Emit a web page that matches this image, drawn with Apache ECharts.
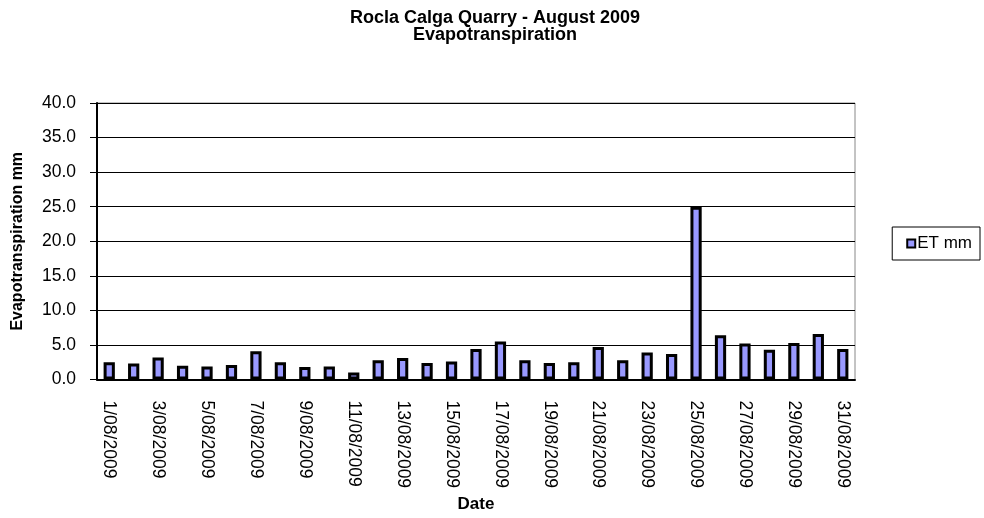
<!DOCTYPE html>
<html>
<head>
<meta charset="utf-8">
<script src="https://cdn.jsdelivr.net/npm/echarts@6/dist/echarts.min.js"></script>
<style>
html,body{margin:0;padding:0;background:#fff;}
#chart{width:984px;height:518px;}
</style>
</head>
<body>
<div id="chart"></div>
<script>
// Daily evapotranspiration, August 2009
const dates = [
  '1/08/2009','2/08/2009','3/08/2009','4/08/2009','5/08/2009','6/08/2009','7/08/2009','8/08/2009',
  '9/08/2009','10/08/2009','11/08/2009','12/08/2009','13/08/2009','14/08/2009','15/08/2009','16/08/2009',
  '17/08/2009','18/08/2009','19/08/2009','20/08/2009','21/08/2009','22/08/2009','23/08/2009','24/08/2009',
  '25/08/2009','26/08/2009','27/08/2009','28/08/2009','29/08/2009','30/08/2009','31/08/2009'
];
const etMm = [
  2.5, 2.3, 3.2, 2.0, 1.9, 2.1, 4.1, 2.5,
  1.8, 1.9, 1.0, 2.8, 3.1, 2.4, 2.6, 4.4,
  5.5, 2.8, 2.4, 2.5, 4.7, 2.8, 3.9, 3.7,
  25.0, 6.4, 5.2, 4.3, 5.3, 6.6, 4.4
];
const seriesName = 'ET mm';
const titleLines = ['Rocla Calga Quarry - August 2009', 'Evapotranspiration'];

const FONT = 'Liberation Sans, Arial, sans-serif';
const chart = echarts.init(document.getElementById('chart'), null, {renderer: 'canvas'});
chart.setOption({
  animation: false,
  backgroundColor: '#fff',
  title: {
    text: titleLines.join('\n'),
    left: 490, top: 5, textAlign: 'center',
    textStyle: {fontFamily: FONT, fontSize: 18, fontWeight: 'bold', color: '#000', lineHeight: 16.5}
  },
  legend: {
    data: [seriesName],
    right: 4, top: 227,
    orient: 'vertical',
    padding: [8, 8, 8, 14],
    borderColor: '#000', borderWidth: 1,
    itemWidth: 8, itemHeight: 8,
    icon: 'rect',
    itemStyle: {borderColor: '#000', borderWidth: 2},
    textStyle: {fontFamily: FONT, fontSize: 17, color: '#000', padding: [0, 0, 0, -3]}
  },
  grid: {left: 97, right: 129, top: 103, bottom: 137, containLabel: false,
    show: true, borderColor: '#888', borderWidth: 1},
  xAxis: {
    type: 'category',
    data: dates,
    name: 'Date',
    nameLocation: 'middle',
    nameGap: 114,
    nameTextStyle: {fontFamily: FONT, fontSize: 17, fontWeight: 'bold', color: '#000'},
    axisLine: {lineStyle: {color: '#000', width: 2}},
    axisTick: {interval: 1, length: 5, lineStyle: {color: '#000', width: 1}},
    axisLabel: {interval: 1, rotate: -90, margin: 21, fontFamily: FONT, fontSize: 17.5, color: '#000'}
  },
  yAxis: {
    type: 'value',
    min: 0, max: 40, interval: 5,
    name: 'Evapotranspiration mm',
    nameLocation: 'middle',
    nameGap: 71,
    nameTextStyle: {fontFamily: FONT, fontSize: 16, fontWeight: 'bold', color: '#000'},
    axisLine: {show: true, lineStyle: {color: '#000', width: 2}},
    axisTick: {show: true, length: 7, lineStyle: {color: '#000'}},
    axisLabel: {formatter: v => v.toFixed(1), margin: 21, fontFamily: FONT, fontSize: 17.5, color: '#000'},
    splitLine: {lineStyle: {color: '#000', width: 1}}
  },
  series: [{
    name: seriesName,
    type: 'bar',
    data: etMm,
    barWidth: '46%',
    itemStyle: {color: '#9999FF', borderColor: '#000', borderWidth: 3}
  }]
});
</script>
</body>
</html>
